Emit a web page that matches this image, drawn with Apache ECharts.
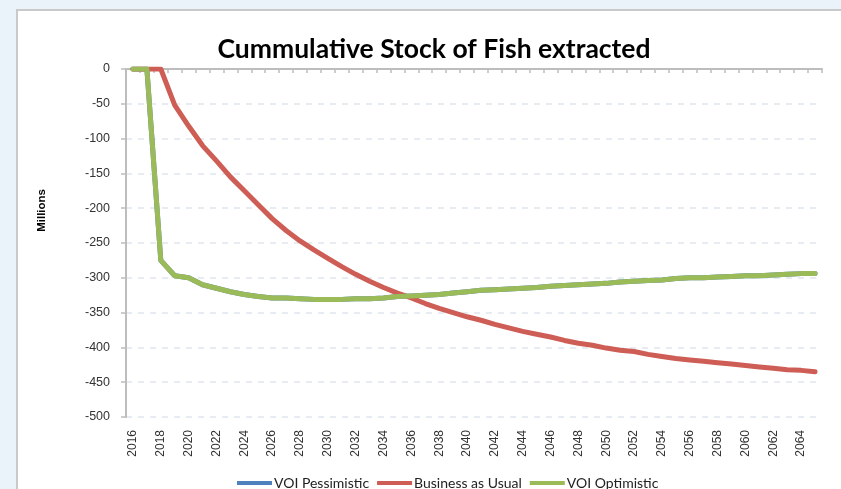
<!DOCTYPE html>
<html>
<head>
<meta charset="utf-8">
<style>
  html, body { margin: 0; padding: 0; background: #e9f3f9; }
  #chart { width: 841px; height: 489px; }
</style>
<script src="https://cdn.jsdelivr.net/npm/echarts@6/dist/echarts.min.js"></script>
</head>
<body>
<div id="chart"></div>
<script>
// Years on the category axis
const years = [];
for (let y = 2016; y <= 2065; y++) years.push(String(y));

// Cumulative stock of fish extracted, millions
const voiPessimistic = [
  0, 0, -275, -297, -300, -310, -315, -320, -324, -327,
  -329, -329, -330, -331, -331, -331, -330, -330, -329, -327,
  -326, -325, -324, -322, -320, -318, -317, -316, -315, -314,
  -312, -311, -310, -309, -308, -306, -305, -304, -303, -301,
  -300, -300, -299, -298, -297, -297, -296, -295, -294, -294
];
const businessAsUsual = [
  0, 0, 0, -52, -82, -110, -132, -155, -175, -195,
  -215, -232, -247, -260, -272, -284, -295, -305, -314, -322,
  -329, -337, -344, -350, -356, -361, -367, -372, -377, -381,
  -385, -390, -394, -397, -401, -404, -406, -410, -413, -416,
  -418, -420, -422, -424, -426, -428, -430, -432, -433, -435
];
const voiOptimistic = [
  0, 0, -275, -297, -300, -310, -315, -320, -324, -327,
  -329, -329, -330, -331, -331, -331, -330, -330, -329, -327,
  -326, -325, -324, -322, -320, -318, -317, -316, -315, -314,
  -312, -311, -310, -309, -308, -306, -305, -304, -303, -301,
  -300, -300, -299, -298, -297, -297, -296, -295, -294, -294
];

const seriesNames = ['VOI Pessimistic', 'Business as Usual', 'VOI Optimistic'];
const seriesColors = ['#4f81bd', '#cd5d55', '#9bbb59'];
const seriesData = [voiPessimistic, businessAsUsual, voiOptimistic];

const chart = echarts.init(document.getElementById('chart'), null, { renderer: 'canvas' });

const labelFont = '"Liberation Sans", Arial, sans-serif';
const titleFont = 'Lato, "Open Sans", sans-serif';

chart.setOption({
  animation: false,
  backgroundColor: 'transparent',
  graphic: [
    {
      type: 'rect',
      z: -10,
      shape: { x: 17, y: 10, width: 900, height: 520 },
      style: { fill: '#ffffff', stroke: '#c9c9c9', lineWidth: 2 }
    },
    {
      type: 'text',
      left: 36,
      top: 189,
      rotation: Math.PI / 2,
      style: {
        text: 'Millions',
        font: 'bold 11.5px ' + labelFont,
        fill: '#000'
      }
    }
  ],
  title: {
    text: 'Cummulative Stock of Fish extracted',
    left: 429,
    top: 31,
    textAlign: 'center',
    textStyle: {
      fontFamily: titleFont,
      fontWeight: 'bold',
      fontSize: 26.5,
      color: '#000'
    }
  },
  legend: {
    data: seriesNames,
    left: 232,
    top: 471,
    icon: 'rect',
    itemWidth: 35,
    itemHeight: 4,
    itemGap: 8,
    textStyle: {
      fontFamily: titleFont,
      fontSize: 14,
      color: '#222',
      padding: [0, 0, 0, -3]
    }
  },
  grid: { left: 126, top: 69, right: 19, bottom: 72, containLabel: false },
  xAxis: [
    {
      // axis line along zero (top edge) with tick marks
      type: 'category',
      data: years,
      position: 'top',
      boundaryGap: true,
      axisLine: { show: true, lineStyle: { color: '#bdbdbd', width: 2 } },
      axisTick: { show: true, inside: true, length: 4, interval: 0, lineStyle: { color: '#bdbdbd', width: 1.5 } },
      axisLabel: { show: false },
      splitLine: { show: false }
    },
    {
      // year labels along the bottom
      type: 'category',
      data: years,
      position: 'bottom',
      boundaryGap: true,
      axisLine: { show: false },
      axisTick: { show: false },
      axisLabel: {
        show: true,
        interval: 1,
        rotate: 90,
        margin: 13,
        fontFamily: labelFont,
        fontSize: 12,
        color: '#333'
      },
      splitLine: { show: false }
    }
  ],
  yAxis: {
    type: 'value',
    min: -500,
    max: 0,
    interval: 50,
    axisLine: { show: true, lineStyle: { color: '#bdbdbd', width: 2 } },
    axisTick: { show: true, length: 5, lineStyle: { color: '#bdbdbd', width: 1.5 } },
    axisLabel: {
      margin: 16,
      fontFamily: labelFont,
      fontSize: 12.5,
      color: '#333'
    },
    splitLine: {
      show: true,
      lineStyle: { color: '#dfe6f0', width: 1.5, type: [6, 6] }
    }
  },
  series: seriesNames.map((name, i) => ({
    name: name,
    type: 'line',
    xAxisIndex: 0,
    data: seriesData[i],
    showSymbol: false,
    symbol: 'none',
    color: seriesColors[i],
    lineStyle: { width: 5, color: seriesColors[i], join: 'round', cap: 'round' },
    z: 2 + i
  }))
});
</script>
</body>
</html>
